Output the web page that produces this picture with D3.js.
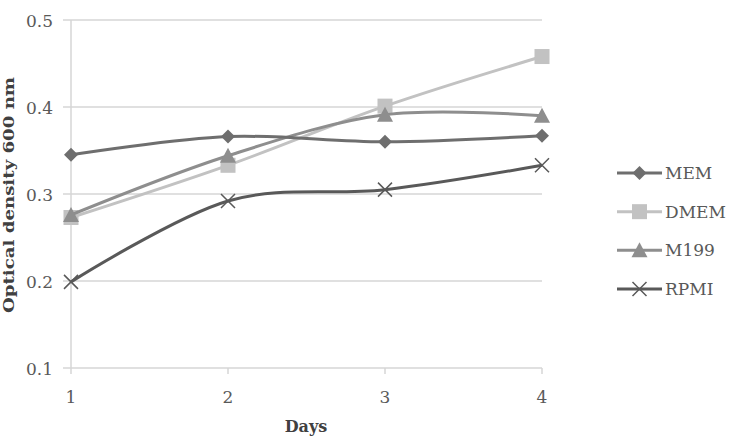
<!DOCTYPE html>
<html><head><meta charset="utf-8">
<script src="https://cdn.jsdelivr.net/npm/d3@7"></script>
<style>body{margin:0;background:#fff}svg{display:block}</style>
</head><body>
<svg id="c" width="729" height="436"></svg>
<script>
const days = [1, 2, 3, 4];
const yTicks = [0.1, 0.2, 0.3, 0.4, 0.5];
const seriesNames = ["MEM", "DMEM", "M199", "RPMI"];
const memValues = [0.345, 0.366, 0.360, 0.367];
const dmemValues = [0.273, 0.333, 0.401, 0.458];
const m199Values = [0.276, 0.344, 0.391, 0.390];
const rpmiValues = [0.199, 0.292, 0.305, 0.333];

const colors = {MEM:"#6e6e6e", DMEM:"#c2c2c2", M199:"#8e8e8e", RPMI:"#595959"};
const markers = {MEM:"diamond", DMEM:"square", M199:"triangle", RPMI:"x"};
const series = [
  {name:"MEM", values:memValues},
  {name:"DMEM", values:dmemValues},
  {name:"M199", values:m199Values},
  {name:"RPMI", values:rpmiValues}
];

const svg = d3.select("#c");
const font = "'DejaVu Serif', 'Liberation Serif', serif";
const x = d3.scaleLinear().domain([1,4]).range([71,542]);
const y = d3.scaleLinear().domain([0.1,0.5]).range([368,20]);

svg.append("g").selectAll("line").data(yTicks).join("line")
  .attr("x1",63).attr("x2",542).attr("y1",d=>y(d)).attr("y2",d=>y(d))
  .attr("stroke","#d6d6d6").attr("stroke-width",1.5);
svg.append("line").attr("x1",71).attr("x2",71).attr("y1",y(0.5)).attr("y2",y(0.1))
  .attr("stroke","#d6d6d6").attr("stroke-width",1.5);
svg.append("g").selectAll("line").data(days).join("line")
  .attr("x1",d=>x(d)).attr("x2",d=>x(d)).attr("y1",y(0.1)).attr("y2",y(0.1)+6)
  .attr("stroke","#d6d6d6").attr("stroke-width",1.5);

svg.append("g").selectAll("text").data(yTicks).join("text")
  .attr("x",53).attr("y",d=>y(d)+7).attr("text-anchor","end")
  .attr("font-family",font).attr("font-size",17).attr("fill","#595959")
  .text(d=>d.toFixed(1));
svg.append("g").selectAll("text").data(days).join("text")
  .attr("x",d=>x(d)).attr("y",403).attr("text-anchor","middle")
  .attr("font-family",font).attr("font-size",17).attr("fill","#595959")
  .text(d=>d);

svg.append("text").attr("x",306).attr("y",432).attr("text-anchor","middle")
  .attr("font-family",font).attr("font-size",16).attr("font-weight","bold").attr("fill","#404040")
  .text("Days");
svg.append("text").attr("transform","translate(14,195) rotate(-90)").attr("text-anchor","middle")
  .attr("font-family",font).attr("font-size",15).attr("font-weight","bold").attr("fill","#404040")
  .attr("textLength",236).attr("lengthAdjust","spacingAndGlyphs")
  .text("Optical density 600 nm");

function drawMarker(g, type, cx, cy, color){
  if(type==="diamond"){
    g.append("path").attr("d",`M${cx},${cy-7}L${cx+7},${cy}L${cx},${cy+7}L${cx-7},${cy}Z`).attr("fill",color);
  } else if(type==="square"){
    g.append("rect").attr("x",cx-7.5).attr("y",cy-7.5).attr("width",15).attr("height",15).attr("fill",color);
  } else if(type==="triangle"){
    g.append("path").attr("d",`M${cx},${cy-8}L${cx+8},${cy+7}L${cx-8},${cy+7}Z`).attr("fill",color);
  } else {
    g.append("path").attr("d",`M${cx-7},${cy-7}L${cx+7},${cy+7}M${cx-7},${cy+7}L${cx+7},${cy-7}`)
      .attr("stroke",color).attr("stroke-width",1.5).attr("fill","none");
  }
}

const line = d3.line().x((d,i)=>x(days[i])).y(d=>y(d)).curve(d3.curveCatmullRom.alpha(0));
const order = ["DMEM","M199","MEM","RPMI"];
order.forEach(n=>{
  const s = series.find(t=>t.name===n);
  const g = svg.append("g");
  g.append("path").attr("d",line(s.values)).attr("fill","none")
    .attr("stroke",colors[n]).attr("stroke-width",3);
  s.values.forEach((v,i)=>drawMarker(g, markers[n], x(days[i]), y(v), colors[n]));
});

const ly = d3.scalePoint().domain(seriesNames).range([173,289]);
seriesNames.forEach(n=>{
  const g = svg.append("g");
  const yy = ly(n);
  g.append("line").attr("x1",617).attr("x2",662).attr("y1",yy).attr("y2",yy)
    .attr("stroke",colors[n]).attr("stroke-width",3);
  drawMarker(g, markers[n], 639.5, yy, colors[n]);
  g.append("text").attr("x",665).attr("y",yy+6).attr("font-family",font).attr("font-size",17)
    .attr("fill","#595959").text(n);
});
</script>
</body></html>
